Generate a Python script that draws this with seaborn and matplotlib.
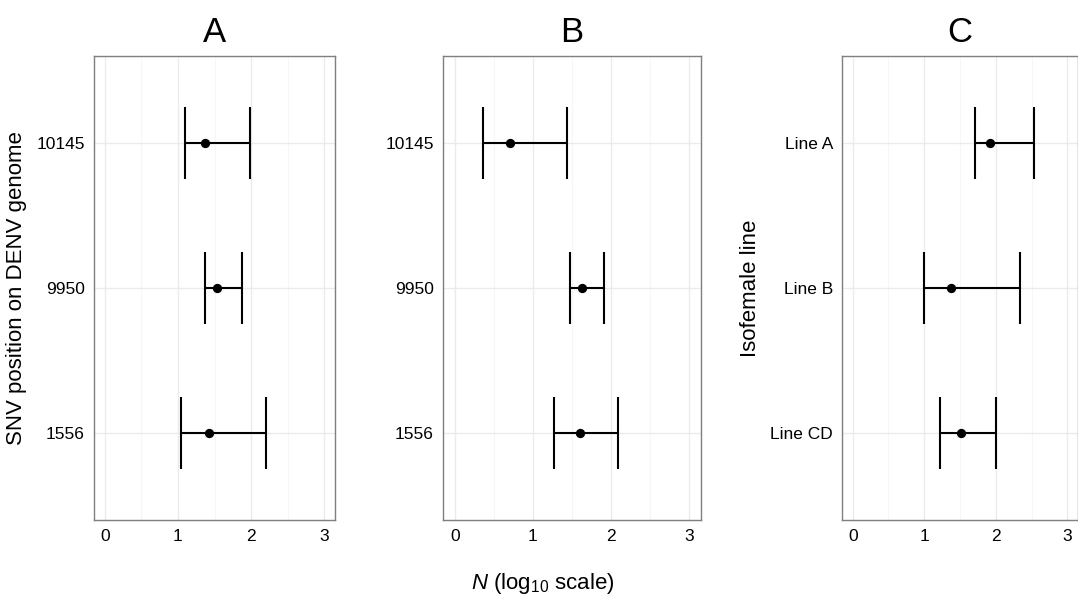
import numpy as np
import pandas as pd
import matplotlib
matplotlib.use('Agg')
import matplotlib.pyplot as plt
import seaborn as sns

# categories, listed bottom -> top
snv_labels = ['1556', '9950', '10145']
line_labels = ['Line CD', 'Line B', 'Line A']

# panel A: SNV positions
a_est = [1.42, 1.53, 1.37]
a_lo = [1.04, 1.37, 1.09]
a_hi = [2.21, 1.88, 1.99]

# panel B: SNV positions
b_est = [1.60, 1.63, 0.71]
b_lo = [1.27, 1.47, 0.36]
b_hi = [2.09, 1.91, 1.44]

# panel C: isofemale lines
c_est = [1.52, 1.38, 1.92]
c_lo = [1.22, 1.00, 1.71]
c_hi = [2.01, 2.34, 2.53]

x_ticks = [0, 1, 2, 3]

sns.set_style("whitegrid")
plt.rcParams['font.family'] = ['Liberation Sans', 'DejaVu Sans']
plt.rcParams['text.color'] = 'black'
plt.rcParams['axes.labelcolor'] = 'black'
plt.rcParams['mathtext.fontset'] = 'custom'
plt.rcParams['mathtext.rm'] = 'Liberation Sans'
plt.rcParams['mathtext.it'] = 'Liberation Sans:italic'


def make_df(labels, est, lo, hi):
    df = pd.DataFrame({'label': labels, 'est': est, 'lo': lo, 'hi': hi})
    df['pos'] = np.arange(len(df))
    return df


def draw_panel(ax, df, title, ylabel=None):
    ax.set_facecolor('white')
    # horizontal bar + caps
    ax.hlines(df['pos'], df['lo'], df['hi'], color='black', lw=1.5, zorder=3)
    ax.vlines(df['lo'], df['pos'] - 0.25, df['pos'] + 0.25, color='black', lw=1.5, zorder=3)
    ax.vlines(df['hi'], df['pos'] - 0.25, df['pos'] + 0.25, color='black', lw=1.5, zorder=3)
    sns.scatterplot(data=df, x='est', y='pos', ax=ax, color='black', s=45,
                    edgecolor='black', linewidth=0, zorder=4, legend=False)

    ax.set_xlim(-0.15, 3.15)
    ax.set_ylim(-0.6, len(df) - 0.4)
    ax.set_xticks(x_ticks)
    ax.set_xticklabels([str(t) for t in x_ticks])
    ax.set_xticks([0.5, 1.5, 2.5], minor=True)
    ax.set_yticks(df['pos'])
    ax.set_yticklabels(df['label'])

    ax.grid(True, which='major', color='#ebebeb', lw=1.0)
    ax.grid(True, which='minor', axis='x', color='#f6f6f6', lw=0.8)
    ax.set_axisbelow(True)
    for s in ax.spines.values():
        s.set_visible(True)
        s.set_color('#7f7f7f')
        s.set_linewidth(1.0)

    ax.tick_params(axis='both', which='major', direction='out', length=3.5,
                   width=0.9, color='#333333', labelsize=12.5, labelcolor='black', pad=3)
    ax.tick_params(axis='both', which='minor', length=0)

    ax.set_xlabel('')
    ax.set_ylabel(ylabel if ylabel else '', fontsize=16, labelpad=7, color='black')
    ax.set_title(title, fontsize=25, pad=10, color='black')


fig = plt.figure(figsize=(10.78, 6.01), dpi=100)
W, H = 1078, 601


def add_axes(left, right, top=56, bottom=520):
    return fig.add_axes([left / W, 1 - bottom / H, (right - left) / W, (bottom - top) / H])


ax_a = add_axes(94, 335)
ax_b = add_axes(443, 701)
ax_c = add_axes(842, 1078)

draw_panel(ax_a, make_df(snv_labels, a_est, a_lo, a_hi), 'A', 'SNV position on DENV genome')
draw_panel(ax_b, make_df(snv_labels, b_est, b_lo, b_hi), 'B')
draw_panel(ax_c, make_df(line_labels, c_est, c_lo, c_hi), 'C', 'Isofemale line')

fig.text(543 / W, 1 - 583 / H, r'$\it{N}$ (log$_{10}$ scale)', ha='center', va='center',
         fontsize=16, color='black')

fig.savefig('out.png', dpi=100)
